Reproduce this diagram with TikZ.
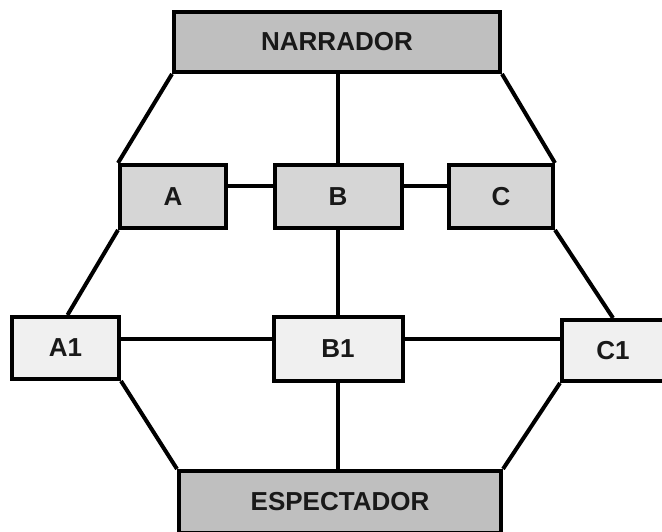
\documentclass[tikz,border=0pt]{standalone}
\usepackage{fontspec}
\setmainfont{Liberation Sans}
\begin{document}
\begin{tikzpicture}[x=1pt,y=1pt,
  box/.style={draw=black, line width=4pt, inner sep=0pt, font=\fontsize{26}{30}\selectfont\bfseries, text=black!90},
  top/.style={box, fill=black!25},
  mid/.style={box, fill=black!16},
  low/.style={box, fill=black!6},
  link/.style={line width=4pt}]
\useasboundingbox (0,0) rectangle (662,532);
% outer boxes
\node[top, minimum width=326pt, minimum height=60pt] (nar) at (337,490) {NARRADOR};
\node[top, minimum width=322pt, minimum height=62pt] (esp) at (340,30) {ESPECTADOR};
% middle row
\node[mid, minimum width=106pt, minimum height=63pt] (a) at (173,335.5) {A};
\node[mid, minimum width=127pt, minimum height=63pt] (b) at (338,335.5) {B};
\node[mid, minimum width=104pt, minimum height=63pt] (c) at (501,335.5) {C};
% lower row
\node[low, minimum width=107pt, minimum height=62pt] (a1) at (65.5,184) {A1};
\node[low, minimum width=129pt, minimum height=64pt] (b1) at (338,183) {B1};
\node[low, minimum width=102pt, minimum height=61pt] (c1) at (613,181.5) {C1};
% spine and rungs
\coordinate (ab) at ([yshift=10pt]a.east);
\coordinate (a1b1) at ([yshift=9pt]a1.east);
\draw[link] (b.north) -- (b.north |- nar.south);
\draw[link] (b.south) -- (b1.north);
\draw[link] (b1.south) -- (b1.south |- esp.north);
\draw[link] (ab) -- (ab -| b.west);
\draw[link] (ab -| b.east) -- (ab -| c.west);
\draw[link] (a1b1) -- (a1b1 -| b1.west);
\draw[link] (a1b1 -| b1.east) -- (a1b1 -| c1.west);
% slanted sides
\draw[link] (nar.south west) -- (a.north west);
\draw[link] (nar.south east) -- (c.north east);
\draw[link] (a.south west) -- ([xshift=2pt]a1.north);
\draw[link] (c.south east) -- (c1.north);
\draw[link] (a1.south east) -- (esp.north west);
\draw[link] (c1.south west) -- (esp.north east);
\end{tikzpicture}
\end{document}
